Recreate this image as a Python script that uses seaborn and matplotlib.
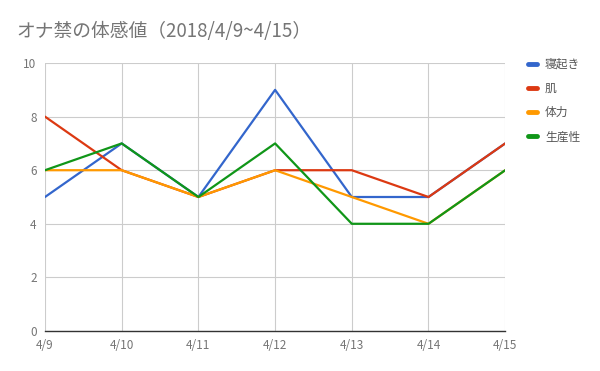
import pandas as pd
import seaborn as sns
import matplotlib.pyplot as plt

# Data
dates = ["4/9", "4/10", "4/11", "4/12", "4/13", "4/14", "4/15"]
wakeUp = [5, 7, 5, 9, 5, 5, 7]
skin = [8, 6, 5, 6, 6, 5, 7]
stamina = [6, 6, 5, 6, 5, 4, 6]
productivity = [6, 7, 5, 7, 4, 4, 6]
seriesNames = ["寝起き", "肌", "体力", "生産性"]
yTicks = [0, 2, 4, 6, 8, 10]

dataFrame = pd.DataFrame({
    "date": dates * 4,
    "x": list(range(len(dates))) * 4,
    "value": wakeUp + skin + stamina + productivity,
    "series": [name for name in seriesNames for _ in dates],
})

sns.set_theme(style="white")
plt.rcParams["font.family"] = ["Noto Sans CJK JP", "DejaVu Sans"]

palette = ["#3366cc", "#dc3912", "#ff9900", "#109618"]

fig = plt.figure(figsize=(6, 3.71), dpi=100)
ax = fig.add_axes([0.075, 0.108, 0.767, 0.722])

sns.lineplot(data=dataFrame, x="x", y="value", hue="series", palette=palette,
             linewidth=1.6, ax=ax, legend=False)

ax.set_xlim(0, len(dates) - 1)
ax.set_ylim(0, 10)
ax.set_xticks(range(len(dates)))
ax.set_xticklabels(dates)
ax.set_yticks(yTicks)
ax.grid(True, color="#cccccc", linewidth=0.8)
ax.set_axisbelow(True)
for side in ["top", "right", "left"]:
    ax.spines[side].set_visible(False)
ax.spines["bottom"].set_color("#333333")
ax.spines["bottom"].set_linewidth(1.0)
ax.tick_params(axis="both", length=0, labelsize=8.5, colors="#757575")
ax.tick_params(axis="x", pad=6)
ax.tick_params(axis="y", pad=6)
ax.set_xlabel("")
ax.set_ylabel("")

fig.text(0.028, 0.915, "オナ禁の体感値（2018/4/9~4/15）", fontsize=13.5,
         color="#757575", va="center")

handles = [plt.Line2D([0], [0], color=c, linewidth=3.5) for c in palette]
leg = fig.legend(handles, seriesNames, loc="upper left",
                 bbox_to_anchor=(0.862, 0.873), frameon=False,
                 handlelength=0.75, labelspacing=0.95, fontsize=8.5,
                 handletextpad=0.7)
for text in leg.get_texts():
    text.set_color("#555555")

plt.savefig("out.png", dpi=100)
plt.close()
